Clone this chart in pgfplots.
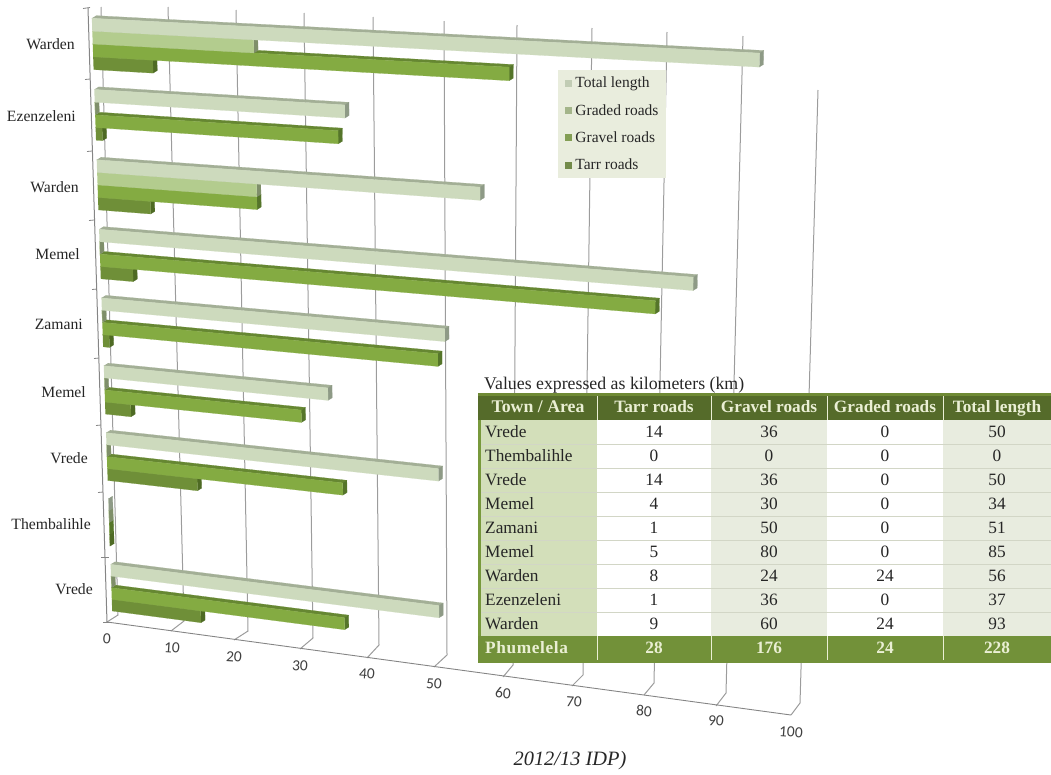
\documentclass[border=0pt]{standalone}
\usepackage{fontspec}
\usepackage{pgfplots}
\pgfplotsset{compat=1.18}
\setmainfont{Liberation Serif}
\newfontfamily\numfont{Carlito}

% Colours of the four series: front face, top strip, end cap
\definecolor{totF}{HTML}{CDDABD}\definecolor{totS}{HTML}{A3AF96}\definecolor{totC}{HTML}{8E9A86}
\definecolor{graF}{HTML}{B3CC8E}\definecolor{graS}{HTML}{8FA86A}\definecolor{graC}{HTML}{7F8F6A}
\definecolor{graveF}{HTML}{84AB42}\definecolor{graveS}{HTML}{668732}\definecolor{graveC}{HTML}{55752A}
\definecolor{tarF}{HTML}{6F8F38}\definecolor{tarS}{HTML}{587528}\definecolor{tarC}{HTML}{4E6A24}
\definecolor{gridc}{HTML}{9C9C9C}
\definecolor{legbg}{HTML}{E9EDDD}
\definecolor{headc}{HTML}{556B2A}\definecolor{headtop}{HTML}{6F8A35}
\definecolor{sumc}{HTML}{729139}\definecolor{townc}{HTML}{D3DFBA}
\definecolor{altc}{HTML}{E8ECDF}\definecolor{rulec}{HTML}{D2D6C6}
\definecolor{edgec}{HTML}{78993C}\definecolor{headtxt}{HTML}{EAEFD4}

% Projective map of the bar plane: value 0..100, row 0..9 onto the page
\newcommand\setplane[8]{%
  \edef\pden{\fpeval{(#3-#5)*(#8-#6)-(#7-#5)*(#4-#6)}}%
  \edef\psx{\fpeval{#1-#3+#5-#7}}\edef\psy{\fpeval{#2-#4+#6-#8}}%
  \xdef\hg{\fpeval{round((\psx*(#8-#6)-(#7-#5)*\psy)/\pden,7)}}%
  \xdef\hh{\fpeval{round(((#3-#5)*\psy-\psx*(#4-#6))/\pden,7)}}%
  \xdef\ha{\fpeval{round(#3-#1+\hg*#3,4)}}%
  \xdef\hb{\fpeval{round(#7-#1+\hh*#7,4)}}%
  \xdef\hc{#1}%
  \xdef\hd{\fpeval{round(#4-#2+\hg*#4,4)}}%
  \xdef\he{\fpeval{round(#8-#2+\hh*#8,4)}}%
  \xdef\hf{#2}}
\setplane{91.5}{8.2}{815}{45}{796}{711}{112.5}{620}

\pgfmathdeclarefunction{barx}{2}{\pgfmathparse{(\ha*#1/100+\hb*#2/9+\hc)/(\hg*#1/100+\hh*#2/9+1)}}
\pgfmathdeclarefunction{bary}{2}{\pgfmathparse{(\hd*#1/100+\he*#2/9+\hf)/(\hg*#1/100+\hh*#2/9+1)}}

\def\bw{0.18}   % bar thickness in row units
\def\dpx{4.2}   % depth offset of a bar, horizontal
\def\dpy{-2.6}  % depth offset of a bar, vertical

\pgfplotsset{
  /pgfplots/table/bar at/.style={
    x expr={barx(\thisrow{v},#1+\thisrow{f}*\bw)+\thisrow{o}*\dpx},
    y expr={bary(\thisrow{v},#1+\thisrow{f}*\bw)+\thisrow{o}*\dpy}}}

% One bar: row position of its upper edge, value, front / strip / cap colours
\newcommand\roadbar[5]{%
  \addplot[fill=#4,draw=#4,line width=0.2pt,forget plot] table[row sep=\\,bar at=#1] {v f o\\ 0 0 0\\ #2 0 0\\ #2 0 1\\ 0 0 1\\};
  \addplot[fill=#5,draw=#5,line width=0.2pt,forget plot] table[row sep=\\,bar at=#1] {v f o\\ #2 0 0\\ #2 0 1\\ #2 1 1\\ #2 1 0\\};
  \addplot[fill=#3,draw=#3,line width=0.2pt,forget plot] table[row sep=\\,bar at=#1] {v f o\\ 0 0 0\\ #2 0 0\\ #2 1 0\\ 0 1 0\\};
}
% One town: row index from the top, then tarr, gravel, graded, total
\newcommand\towngroup[5]{%
  \pgfmathsetmacro\ra{#1+0.14+3*\bw}\roadbar{\ra}{#2}{tarF}{tarS}{tarC}%
  \pgfmathsetmacro\ra{#1+0.14+2*\bw}\roadbar{\ra}{#3}{graveF}{graveS}{graveC}%
  \pgfmathsetmacro\ra{#1+0.14+1*\bw}\roadbar{\ra}{#4}{graF}{graS}{graC}%
  \pgfmathsetmacro\ra{#1+0.14}\roadbar{\ra}{#5}{totF}{totS}{totC}%
}
% A gridline: tick on the front edge, foot on the wall, top of the wall
\newcommand\wallline[6]{\addplot[gridc,line width=1pt,forget plot] coordinates {(#1,#2) (#3,#4) (#5,#6)};}
% A value label below the front edge
\newcommand\vlabel[3]{\node[font=\numfont\fontsize{15.5}{15.5}\selectfont,text=black!75,rotate=-4,inner sep=0pt] at (#1,#2) {#3};}
% A category label on the left edge
\newcommand\catlabel[3]{\node[anchor=east,inner sep=0pt,font=\fontsize{15.7}{15.7}\selectfont,text=black!85] at (#1,#2) {#3};}
% A table row: upper y, town, then four values
\newcommand\tablerow[6]{%
  \node[anchor=base west,inner sep=0pt] at (485,#1+17.8) {#2};
  \node[anchor=base,inner sep=0pt] at (654,#1+17.8) {#3};
  \node[anchor=base,inner sep=0pt] at (769,#1+17.8) {#4};
  \node[anchor=base,inner sep=0pt] at (885,#1+17.8) {#5};
  \node[anchor=base,inner sep=0pt] at (997,#1+17.8) {#6};
}
% A legend swatch, with room to the text
\newcommand\swatch[1]{\addlegendimage{legend image code/.code={\fill[draw=none,fill=#1] (0pt,-3.5pt) rectangle (7pt,3.5pt);\path (9pt,0pt);}}}

\begin{document}
\begin{tikzpicture}
\useasboundingbox (0,0) rectangle (1051pt,774pt);
\begin{axis}[
  at={(0,0)},anchor=south west,
  x=1pt,y=1pt,xmin=0,xmax=1051,ymin=0,ymax=774,y dir=reverse,
  hide axis,clip=false,
  legend style={at={(axis cs:558,70)},anchor=north west,fill=legbg,draw=none,
    font=\fontsize{15.5}{15.5}\selectfont,row sep=13pt,inner xsep=7pt,inner ysep=6pt,
    nodes={inner sep=1pt,text=black!85}},
  legend cell align=left,
]
% Back wall and floor gridlines, value 0 to 100
\wallline{107}{622}{118}{615}{101}{7}
\wallline{171}{631}{184}{621}{168}{7}
\wallline{234}{640}{248}{631}{236}{10}
\wallline{300}{649}{313}{638}{304}{13}
\wallline{367}{658}{379}{645}{373}{17}
\wallline{434}{667}{447}{655}{444}{21}
\wallline{503}{677}{513}{665}{517}{25}
\wallline{572}{686}{583}{675}{592}{28}
\wallline{644}{695}{654}{683}{667}{32}
\wallline{716}{706}{726}{693}{743}{36}
\wallline{791}{715}{800}{703}{818}{90}

% Road lengths per town, top row first: tarr, gravel, graded, total
\towngroup{0}{9}{60}{24}{93}
\towngroup{1}{1}{36}{0}{37}
\towngroup{2}{8}{24}{24}{56}
\towngroup{3}{5}{80}{0}{85}
\towngroup{4}{1}{50}{0}{51}
\towngroup{5}{4}{30}{0}{34}
\towngroup{6}{14}{36}{0}{50}
\towngroup{7}{0}{0}{0}{0}
\towngroup{8}{14}{36}{0}{50}

% Axis edges and ticks
\addplot[gridc!85!black,line width=0.9pt,forget plot] coordinates {(107,622) (791,715)};
\addplot[gridc!85!black,line width=1pt,forget plot] coordinates {(88,8) (107,622)};
\addplot[gridc!85!black,line width=0.8pt,forget plot] coordinates {(83,8.5) (90,7.5)};
\addplot[gridc!85!black,line width=0.8pt,forget plot] coordinates {(85,79.5) (90,79)};
\addplot[gridc!85!black,line width=0.8pt,forget plot] coordinates {(87,151.5) (92,151)};
\addplot[gridc!85!black,line width=0.8pt,forget plot] coordinates {(89,220.5) (94,220)};
\addplot[gridc!85!black,line width=0.8pt,forget plot] coordinates {(92,289.5) (97,289)};
\addplot[gridc!85!black,line width=0.8pt,forget plot] coordinates {(94,358.5) (99,358)};
\addplot[gridc!85!black,line width=0.8pt,forget plot] coordinates {(96,425.5) (101,425)};
\addplot[gridc!85!black,line width=0.8pt,forget plot] coordinates {(98,492.5) (103,492)};
\addplot[gridc!85!black,line width=0.8pt,forget plot] coordinates {(101,557) (109,557)};
\addplot[gridc!85!black,line width=0.8pt,forget plot] coordinates {(103,622) (109,622)};

\vlabel{107}{639}{0}\vlabel{172}{648}{10}\vlabel{234}{657}{20}\vlabel{300}{666}{30}
\vlabel{367}{674}{40}\vlabel{434}{684}{50}\vlabel{503}{693}{60}\vlabel{574}{702}{70}
\vlabel{644}{711}{80}\vlabel{716}{721}{90}\vlabel{791}{732}{100}

\catlabel{75}{44}{Warden}\catlabel{76}{116}{Ezenzeleni}\catlabel{79}{187}{Warden}
\catlabel{80}{254}{Memel}\catlabel{83}{324}{Zamani}\catlabel{86}{392}{Memel}
\catlabel{88}{458}{Vrede}\catlabel{91}{524}{Thembalihle}\catlabel{93}{589}{Vrede}

% Legend
\swatch{totF!85!gray}\addlegendentry{Total length}
\swatch{graF!70!gray}\addlegendentry{Graded roads}
\swatch{graveF!70!gray}\addlegendentry{Gravel roads}
\swatch{tarF!75!gray}\addlegendentry{Tarr roads}

% Table backgrounds
\fill[white] (478,394) rectangle (1051,663);
\fill[townc] (478,420) rectangle (597,636);
\fill[altc] (711,420) rectangle (827,636);
\fill[altc] (943,420) rectangle (1051,636);
\pgfplotsinvokeforeach{444,468,492,516,540,564,588,612}{\draw[rulec,line width=0.9pt] (478,#1) -- (1051,#1);}
\fill[edgec] (478,420) rectangle (481,636);
\fill[headc] (478,394) rectangle (1051,420);
\fill[headtop] (478,393) rectangle (1051,396);
\fill[sumc] (478,636) rectangle (1051,663);
\pgfplotsinvokeforeach{597,711,827,943}{
  \draw[headtxt,line width=0.8pt] (#1,396) -- (#1,420);
  \draw[headtxt,line width=0.8pt] (#1,636) -- (#1,660);
}
% Table text
\node[anchor=base west,inner sep=0pt,font=\fontsize{17.8}{17.8}\selectfont,text=black!85] at (484,389.5) {Values expressed as kilometers (km)};
\begin{scope}[every node/.append style={font=\fontsize{17.3}{17.3}\selectfont\bfseries,text=headtxt}]
\node[anchor=base,inner sep=0pt,font=\fontsize{17.8}{17.8}\selectfont\bfseries] at (538,412.5) {Town / Area};
\node[anchor=base,inner sep=0pt] at (654,412.5) {Tarr roads};
\node[anchor=base,inner sep=0pt] at (769,412.5) {Gravel roads};
\node[anchor=base,inner sep=0pt] at (885,412.5) {Graded roads};
\node[anchor=base,inner sep=0pt] at (997,412.5) {Total length};
\end{scope}
\begin{scope}[every node/.append style={font=\fontsize{17.3}{17.3}\selectfont,text=black!85}]
\tablerow{420}{Vrede}{14}{36}{0}{50}
\tablerow{444}{Thembalihle}{0}{0}{0}{0}
\tablerow{468}{Vrede}{14}{36}{0}{50}
\tablerow{492}{Memel}{4}{30}{0}{34}
\tablerow{516}{Zamani}{1}{50}{0}{51}
\tablerow{540}{Memel}{5}{80}{0}{85}
\tablerow{564}{Warden}{8}{24}{24}{56}
\tablerow{588}{Ezenzeleni}{1}{36}{0}{37}
\tablerow{612}{Warden}{9}{60}{24}{93}
\end{scope}
\begin{scope}[every node/.append style={font=\fontsize{17.3}{17.3}\selectfont\bfseries,text=headtxt}]
\tablerow{636}{\addfontfeature{LetterSpace=3.5}Phumelela}{28}{176}{24}{228}
\end{scope}
\node[anchor=base,inner sep=0pt,font=\fontsize{20.4}{20.4}\selectfont\itshape,text=black!85] at (570,765) {2012/13 IDP)};
\end{axis}
\end{tikzpicture}
\end{document}
